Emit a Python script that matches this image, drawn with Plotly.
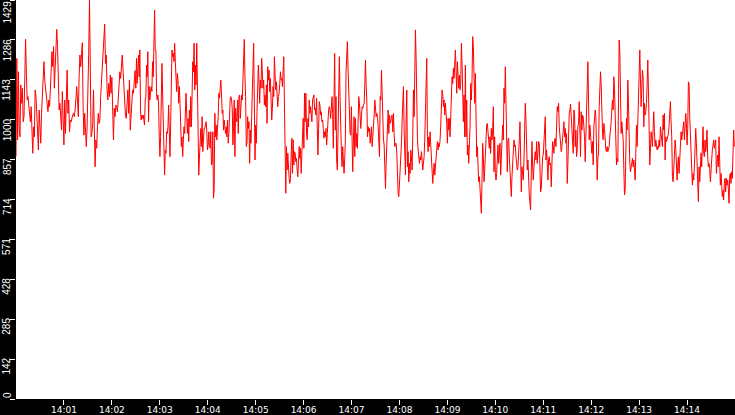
import plotly.graph_objects as go
from datetime import datetime, timedelta

# ---- data ----
seg1 = [868,1220,928,1172,969,939,1125,1059,1113,993,1011,1142,1288,1166,1071,1083,1047,1041,993,1047,
        963,880,975,939,1107,1083,1023,916,892,1035,951,916,1023,1071,1142,1208,1142,1119,1083,1059,
        1029,1071,1047,1107,1172,1244,1190,1262,1113,1214,1310,1324,1262,1107,1035,1059,1011,963,1101,939,
        910,1071,951,1071,1178,1023,1071,957,999,993,1011,1017,1023,1011,1035,1071,1119,1071,1011,1154,
        1232,1190,1226,1276,1047,945,1023,981,904,975,1071,1238,1429,1238,939,951,987,1107,939,832,
        928,898,975,1023,987,999,1083,1136,1220,1250,1316,1343,1202,1232,1107,1071,1130,1083,1160,1095,
        1152,1059,928,1041,1011,1053,1047,1029,1083,1130,1172,1148,1190,1232,1178,1113,1035,1017,1005,1071,
        1107,1023,1142,963,1023,1071,1107,1095,1142,1176]
seg2 = [1113,1220,1130,1178,1232,1154,1250,1035,999,1017,1005,1017,1005,981,1071,1083,1196,1154,1244,993,
        1119,1071,1101,1119,1101,1208,1154,1351,1393,1250,1250,1089,1071,1089,1053,939,868,939,1095,1202,
        1095,928,892,802,892,880,957,951,975,1053,957,868,981,1178,1250,1226,1238,1208,1274,1208,
        1107,1101,1166,1142,1059,1119,1059,939,904,939,868,928,975,951,1017,1095,1023,951,1005,922,
        1035,975,1083,975,1083,1208,1172,1274,1107,1196,1125,1274,1125,892,802,862,928,969,904,1011,
        886,951,969,969,981,993,957,892,910,957,904,898,957,838,844,957,719,754,1023,939,
        981,928,963,1011,1095,1077,1113,1142,1089,1023,1035,963,999,969,951,975,939,999,916,951,
        1047,1077,1083,1071,1041,910,975,1071,868,1041,1005,993,1071,951,1083,1089,1005,1053,1089,1071,
        1154,1184,1288,1154,1083,904,916,1011,969,993,844,963,916,1011,1083,1226,1274,1059,856]
seg3 = [981,916,1029,1154,1196,1142,1059,1142,1113,1220,1160,1113,1142,1053,1089,1047,1125,987,1190,1142,
        1178,1101,1148,1071,999,1041,1119,1083,1226,1160,1107,1136,1101,1047,1083,1095,1130,1172,1142,1148,
        1119,1184,1226,1053,808,737,904,820,880,820,790,772,790,874,934,808,928,838,886,880,
        850,862,820,796,850,904,862,898,808,856,951,1005,898,1095,993,1095,951,928,1005,975,
        1071,1023,1047,1017,993,1071,1077,1089,1035,1041,1017,1077,975,874,969,1065,1053,1017,1029,993,
        999,969,934,957,939,969,910,951,1017,1035,1047,1035,1005,1047,1083,1023,898,1065,1238,963,
        1083,856,820,951,1130,1226,1083,904,886,832,904,856,808,856,928,1172,1238,1280,1184,1047,
        1035,951,945,1047,856,814,928,1011,868,1005,904,951,898,1005,1083,1059,1017,969,1011,1047,
        1041,1047,1059,1125,1214,1125,1071,939,975,957,969,916,957,975,904,939,957,1017,1071]
seg4 = [1035,1011,1023,1011,975,898,868,1083,1071,1178,1071,975,928,910,808,754,844,928,999,1035,
        951,1017,987,993,1011,1017,957,1023,951,904,916,916,880,796,737,725,772,790,844,916,
        999,1047,1119,963,832,802,999,1107,832,886,778,844,808,892,868,820,939,1107,1011,1166,
        1322,1220,1023,934,892,868,844,868,856,886,862,820,844,868,928,1083,1107,1220,939,886,
        939,904,957,916,880,814,772,808,844,802,832,874,886,922,892,916,904,928,981,1071,
        1107,1089,1047,1071,1017,1059,1035,987,916,1005,963,1005,939,1005,1095,1154,1130,1184,1148,1214,
        1250,1178,1095,1208,1154,1113,1160,1107,1130,1274,1202,1089,993,1089,939,1196,939,1071,874,910,
        844,910,975,1130,1071,1142,1298,1262,1142,1059,1166,1053,868,904,814,778,796,754,689,665,
        784,916,862,778,820,856,928,981,987,957,928,898,939,880,969,928,963,1047,814,939]
seg5 = [808,784,808,862,910,844,880,916,802,856,916,981,928,1113,1059,1190,1059,874,814,928,
        934,868,802,766,725,796,832,904,928,904,910,868,832,820,832,868,928,993,868,742,
        832,802,784,856,987,1059,999,856,820,856,748,731,701,677,808,922,838,784,832,880,
        886,856,922,844,916,922,916,808,742,754,844,868,874,928,939,1011,856,892,844,784,
        856,868,838,844,760,838,922,904,880,928,934,904,999,1047,1029,1059,975,928,904,886,
        904,957,963,993,939,969,916,951,772,844,987,1023,1035,1056,1011,975,928,880,1035,1023,
        904,963,868,892,975,987,1065,951,868,1029,963,1017,1011,975,939,850,928,1071,1101,1208,
        1071,928,981,934,904,880,922,838,975,999,1035,1011,844,784,868,874,1047,1154,1172,1125,
        1005,951,928,987,969,904,892,886,904,886,898,904,939,957,993,1035,1071,1035,1154,1113]
seg6 = [1029,868,838,862,850,1077,1286,1244,1077,951,993,957,928,826,731,748,880,1005,963,1142,
        1059,922,844,814,838,844,862,832,856,820,784,880,981,904,1023,1083,1196,1250,1148,1047,
        1113,1178,1154,975,1059,1017,1029,1059,1125,1214,1107,850,838,898,957,934,904,969,1029,957,
        904,928,916,892,904,898,928,904,975,939,916,904,1017,963,1023,856,939,922,928,939,
        951,981,1023,1065,993,939,796,778,820,868,928,898,832,784,838,868,808,874,916,957,
        928,951,981,993,928,1023,1023,987,910,969,1136,1130,1011,951,838,778,766,808,784,832,
        916,969,916,844,737,707,832,778,826,880,832,904,975,880,868,928,886,910,963,868,
        832,844,826,778,856,856,892,928,928,898,910,928,808,868,874,832,939,850,766,808,
        778,725,748,713,772,790,742,790,766,784,754,701,796,808,772,814,790,862,963,904]
segments = [seg1, seg2, seg3, seg4, seg5, seg6]
segment_seconds = 150

tick_labels = ["14:01", "14:02", "14:03", "14:04", "14:05", "14:06", "14:07",
               "14:08", "14:09", "14:10", "14:11", "14:12", "14:13", "14:14"]
y_tick_values = [0, 142.9, 285.8, 428.7, 571.6, 714.5, 857.4, 1000.3, 1143.2, 1286.1, 1429]
y_tick_labels = ["0", "142", "285", "428", "571", "714", "857", "1000", "1143", "1286", "1429"]
y_max = 1429

# ---- build series ----
t0 = datetime(2000, 1, 1, 14, 0, 0)
xs, ys = [], []
for k, seg in enumerate(segments):
    n = len(seg)
    for i, v in enumerate(seg):
        xs.append(t0 + timedelta(seconds=segment_seconds * k + segment_seconds * i / n))
        ys.append(v)

tick_times = [datetime(2000, 1, 1, int(s[:2]), int(s[3:]), 0) for s in tick_labels]

fig = go.Figure()
fig.add_trace(go.Scatter(x=xs, y=ys, mode="lines",
                         line=dict(color="#ff0000", width=1), hoverinfo="skip"))

xfont = dict(family="DejaVu Sans, Verdana, sans-serif", size=9, color="white")
yfont = dict(family="Liberation Sans, Arial, sans-serif", size=10, color="white")

fig.update_layout(
    width=735, height=415,
    margin=dict(l=16, r=0, t=0, b=16, pad=0),
    paper_bgcolor="black", plot_bgcolor="white",
    showlegend=False,
    xaxis=dict(range=[t0, t0 + timedelta(minutes=15)], tickvals=tick_times, ticktext=tick_labels,
               ticks="outside", ticklen=5, tickwidth=1, tickcolor="white",
               ticklabelstandoff=-3,
               showgrid=False, zeroline=False, showline=False, tickfont=xfont, automargin=False),
    yaxis=dict(range=[0, y_max], tickvals=y_tick_values, ticks="outside", ticklen=5,
               tickwidth=1, tickcolor="white", showticklabels=False,
               showgrid=False, zeroline=False, showline=False, automargin=False),
)

for v, lab in zip(y_tick_values, y_tick_labels):
    at_edge = v == 0 or v == y_max
    fig.add_annotation(x=0, xref="paper", y=v, yref="y", text=lab, showarrow=False,
                       textangle=-90, font=yfont, xanchor="center", xshift=-9,
                       yanchor="bottom" if v == 0 else "top", yshift=0 if at_edge else 2,
                       borderpad=0)

fig.write_html("out.html", config={"displayModeBar": False},
               post_script="document.body.style.margin='0';document.body.style.overflow='hidden';")
